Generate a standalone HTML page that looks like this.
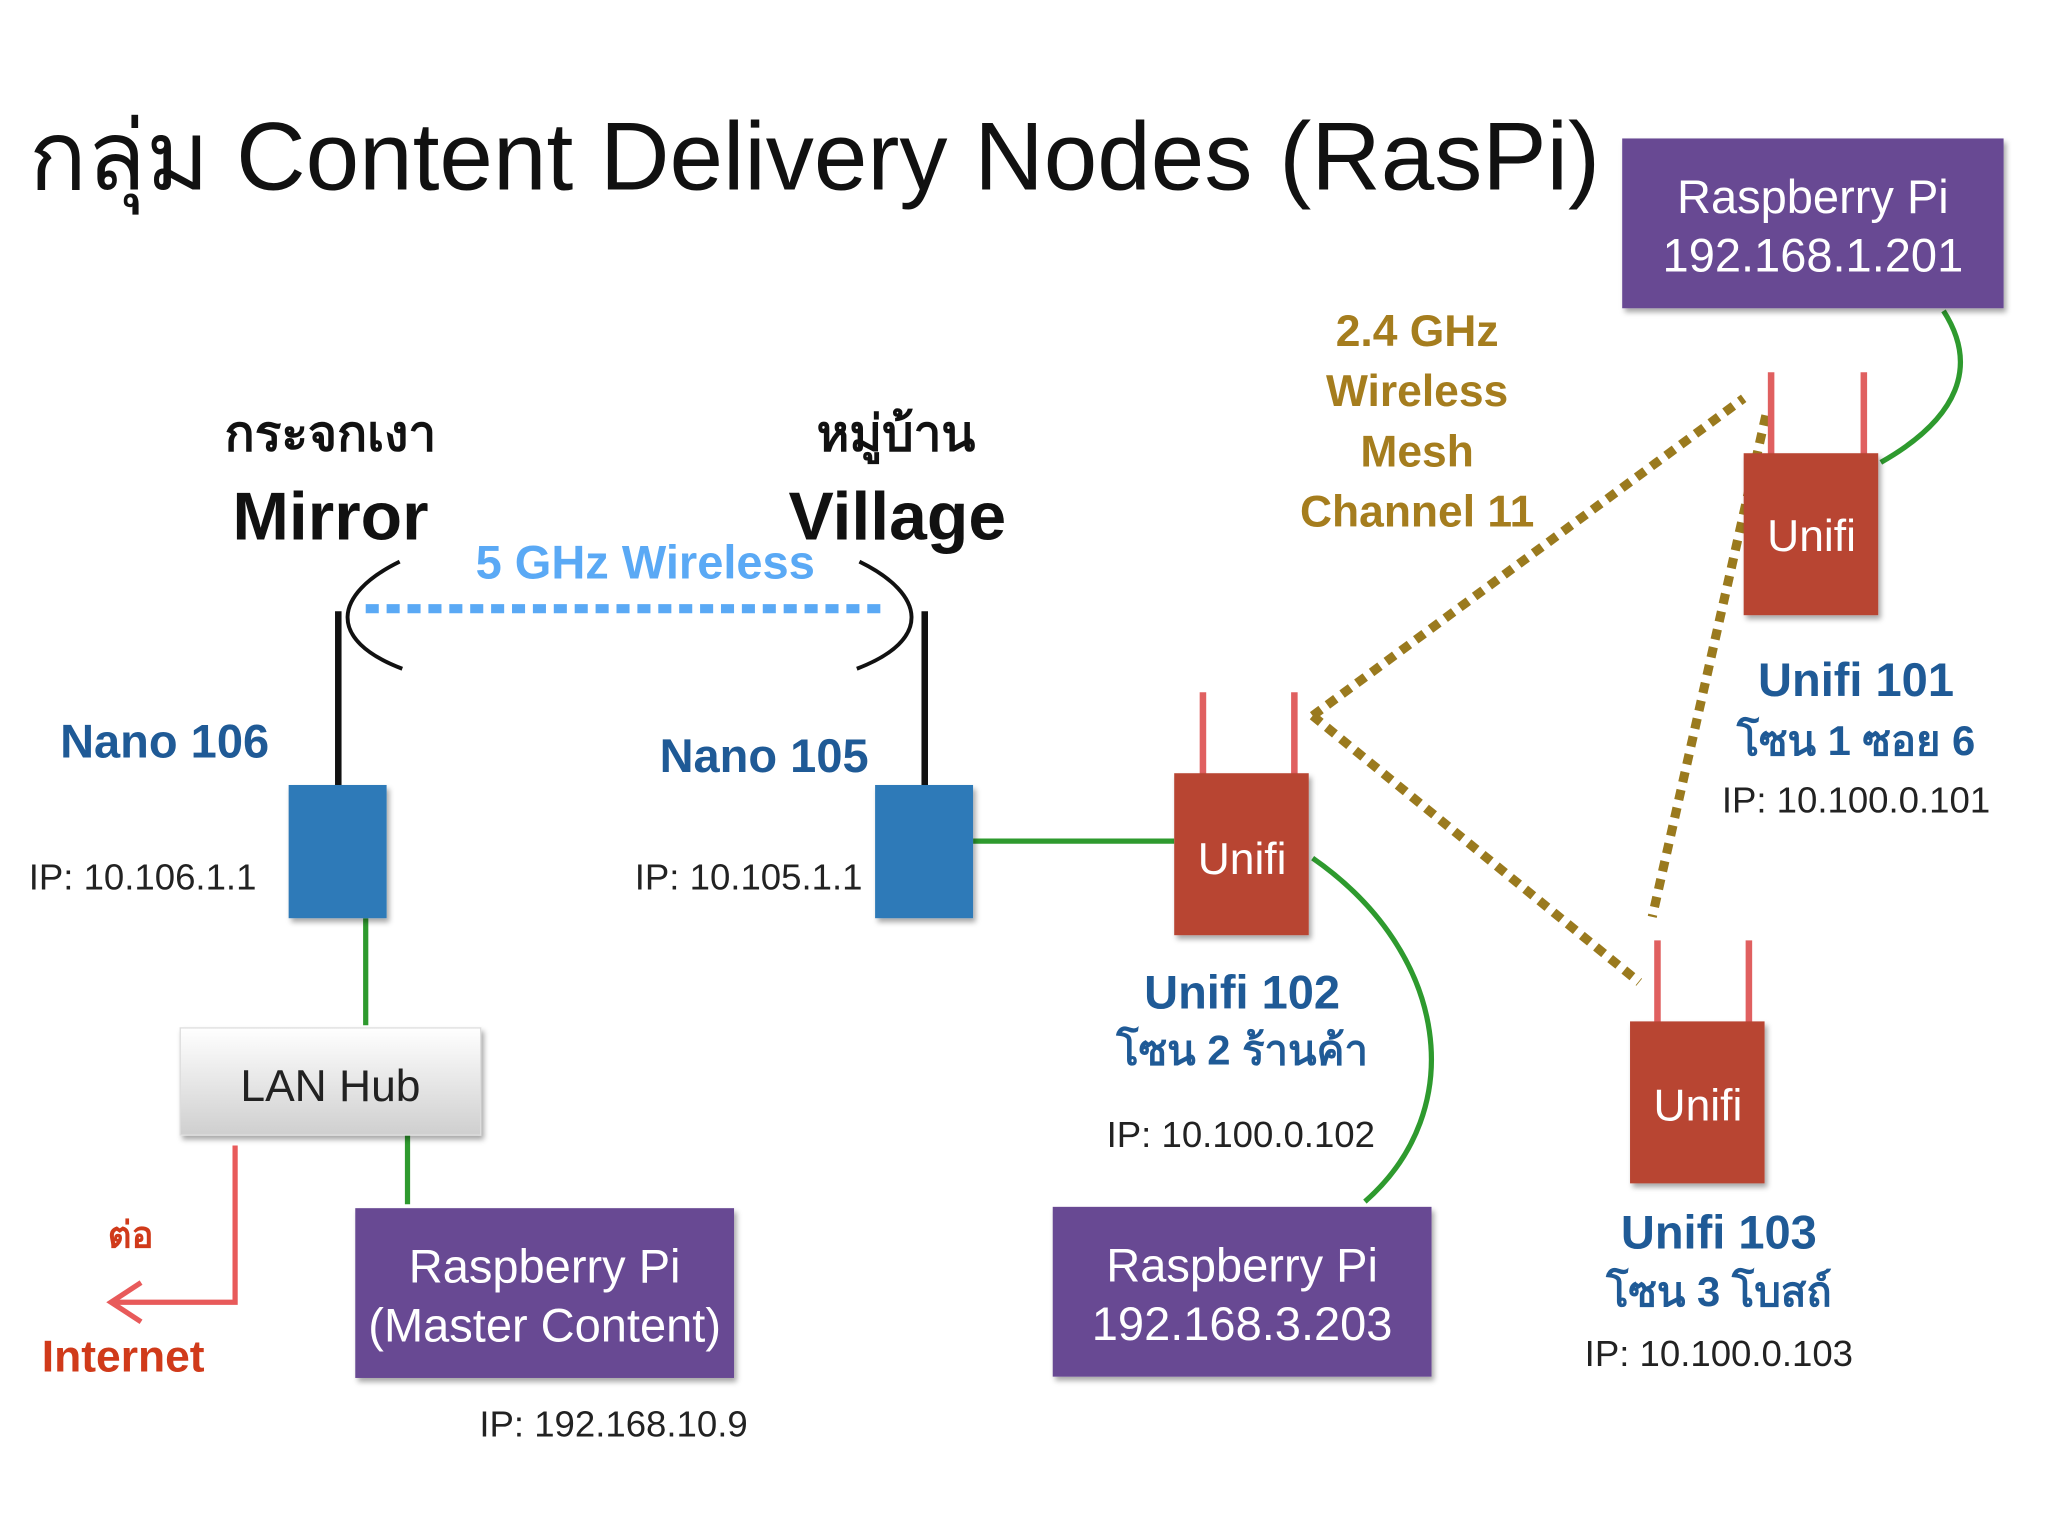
<!DOCTYPE html>
<html><head><meta charset="utf-8"><style>
html,body{margin:0;padding:0;background:#fff;width:2048px;height:1536px;overflow:hidden}
svg{display:block}
text{font-family:"Liberation Sans","DejaVu Sans",sans-serif}
</style></head><body>
<svg width="2048" height="1536" viewBox="0 0 1568 1176" xmlns="http://www.w3.org/2000/svg">
<defs>
<linearGradient id="hub" x1="0" y1="0" x2="0" y2="1"><stop offset="0" stop-color="#ffffff"/><stop offset="1" stop-color="#cfcfcf"/></linearGradient>
<filter id="sh" x="-10%" y="-10%" width="130%" height="130%"><feDropShadow dx="2" dy="3" stdDeviation="2" flood-opacity="0.35"/></filter>
</defs>
<rect width="1568" height="1176" fill="#fff"/>
<text x="22" y="145" font-size="74" fill="#111" textLength="1203" lengthAdjust="spacingAndGlyphs">กลุ่ม Content Delivery Nodes (RasPi)</text>

<g stroke="#9a7a1e" stroke-width="7" stroke-dasharray="8 6" fill="none">
<line x1="1005" y1="548" x2="1335" y2="305"/>
<line x1="1005" y1="548" x2="1255" y2="752"/>
<line x1="1352" y1="318" x2="1265" y2="702"/>
</g>

<g stroke="#2e9a2e" stroke-width="4" fill="none">
<line x1="280" y1="703" x2="280" y2="785"/>
<line x1="312" y1="869" x2="312" y2="922"/>
<line x1="745" y1="644" x2="899" y2="644"/>
<path d="M1005 657 C1110 730 1125 850 1045 920"/>
<path d="M1488 238 C1515 280 1500 320 1440 354"/>
</g>

<g stroke="#e85a5a" stroke-width="4" fill="none">
<polyline points="180,877 180,997 88,997"/>
<polyline points="108,982 85,997 108,1012"/>
</g>
<text x="100" y="955" font-size="28" font-weight="bold" fill="#d03a1a" text-anchor="middle">ต่อ</text>
<text x="32" y="1050" font-size="34" font-weight="bold" fill="#d03a1a">Internet</text>

<text x="494" y="443" font-size="36" font-weight="bold" fill="#5aa9f5" text-anchor="middle">5 GHz Wireless</text>
<line x1="280" y1="466" x2="676" y2="466" stroke="#5aa9f5" stroke-width="7" stroke-dasharray="10 6"/>
<g stroke="#111" fill="none" stroke-width="3">
<path d="M306 430 C255 455 250 490 308 512"/>
<path d="M658 430 C709 455 714 490 656 512"/>
</g>
<g stroke="#111" stroke-width="5">
<line x1="259" y1="468" x2="259" y2="603"/>
<line x1="708" y1="468" x2="708" y2="603"/>
</g>
<text x="253" y="345" font-size="38" font-weight="bold" fill="#111" text-anchor="middle">กระจกเงา</text>
<text x="253" y="413" font-size="52" font-weight="bold" fill="#111" text-anchor="middle">Mirror</text>
<text x="686" y="345" font-size="38" font-weight="bold" fill="#111" text-anchor="middle">หมู่บ้าน</text>
<text x="687" y="413" font-size="52" font-weight="bold" fill="#111" text-anchor="middle">Village</text>

<text x="46" y="580" font-size="36" font-weight="bold" fill="#1f5a96">Nano 106</text>
<text x="505" y="591" font-size="36" font-weight="bold" fill="#1f5a96">Nano 105</text>
<rect x="221" y="601" width="75" height="102" fill="#2e7ab8" filter="url(#sh)"/>
<rect x="670" y="601" width="75" height="102" fill="#2e7ab8" filter="url(#sh)"/>
<text x="22" y="681" font-size="28" fill="#222">IP: 10.106.1.1</text>
<text x="486" y="681" font-size="28" fill="#222">IP: 10.105.1.1</text>

<rect x="138" y="787" width="230" height="82" fill="url(#hub)" stroke="#ddd" filter="url(#sh)"/>
<text x="253" y="843" font-size="34" fill="#222" text-anchor="middle">LAN Hub</text>

<rect x="272" y="925" width="290" height="130" fill="#684893" filter="url(#sh)"/>
<text x="417" y="982" font-size="36" fill="#fff" text-anchor="middle">Raspberry Pi</text>
<text x="417" y="1027" font-size="36" fill="#fff" text-anchor="middle">(Master Content)</text>
<text x="367" y="1100" font-size="28" fill="#222">IP: 192.168.10.9</text>

<rect x="806" y="924" width="290" height="130" fill="#684893" filter="url(#sh)"/>
<text x="951" y="981" font-size="36" fill="#fff" text-anchor="middle">Raspberry Pi</text>
<text x="951" y="1026" font-size="36" fill="#fff" text-anchor="middle">192.168.3.203</text>

<rect x="1242" y="106" width="292" height="130" fill="#684893" filter="url(#sh)"/>
<text x="1388" y="163" font-size="36" fill="#fff" text-anchor="middle">Raspberry Pi</text>
<text x="1388" y="208" font-size="36" fill="#fff" text-anchor="middle">192.168.1.201</text>

<g font-size="34" font-weight="bold" fill="#a57d1e" text-anchor="middle">
<text x="1085" y="265">2.4 GHz</text>
<text x="1085" y="311">Wireless</text>
<text x="1085" y="357">Mesh</text>
<text x="1085" y="403">Channel 11</text>
</g>

<g stroke="#e06060" stroke-width="5">
<line x1="921" y1="530" x2="921" y2="595"/><line x1="991" y1="530" x2="991" y2="595"/>
<line x1="1356" y1="285" x2="1356" y2="350"/><line x1="1427" y1="285" x2="1427" y2="350"/>
<line x1="1269" y1="720" x2="1269" y2="785"/><line x1="1339" y1="720" x2="1339" y2="785"/>
</g>
<rect x="899" y="592" width="103" height="124" fill="#b84432" filter="url(#sh)"/>
<rect x="1335" y="347" width="103" height="124" fill="#b84432" filter="url(#sh)"/>
<rect x="1248" y="782" width="103" height="124" fill="#b84432" filter="url(#sh)"/>
<g font-size="34" fill="#fff" text-anchor="middle">
<text x="951" y="669">Unifi</text>
<text x="1387" y="422">Unifi</text>
<text x="1300" y="858">Unifi</text>
</g>

<g text-anchor="middle" fill="#1f5a96" font-weight="bold">
<text x="951" y="772" font-size="36">Unifi 102</text>
<text x="951" y="815" font-size="32">โซน 2 ร้านค้า</text>
<text x="1421" y="533" font-size="36">Unifi 101</text>
<text x="1421" y="578" font-size="32">โซน 1 ซอย 6</text>
<text x="1316" y="956" font-size="36">Unifi 103</text>
<text x="1316" y="1000" font-size="32">โซน 3 โบสถ์</text>
</g>
<g text-anchor="middle" fill="#222" font-size="28">
<text x="950" y="878">IP: 10.100.0.102</text>
<text x="1421" y="622">IP: 10.100.0.101</text>
<text x="1316" y="1046">IP: 10.100.0.103</text>
</g>
</svg>
</body></html>
